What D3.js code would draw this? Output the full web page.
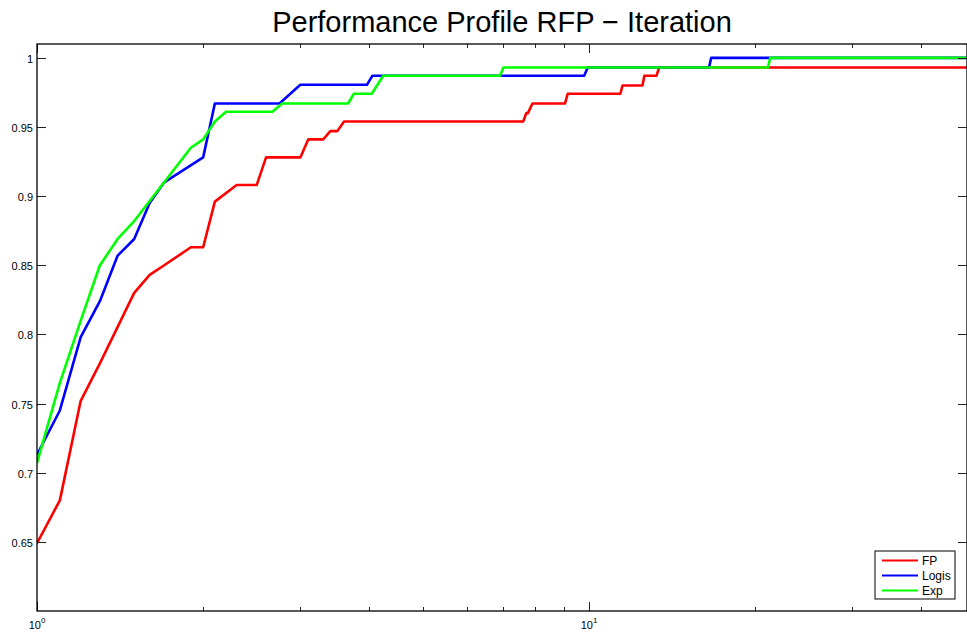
<!DOCTYPE html>
<html>
<head>
<meta charset="utf-8">
<script src="https://cdn.jsdelivr.net/npm/d3@7"></script>
<style>
  body { margin: 0; background: #fff; }
  svg { display: block; font-family: "Liberation Sans", Arial, sans-serif; }
</style>
</head>
<body>
<div id="chart"></div>
<script>
// performance profile data, [tau, rho]
var seriesNames = ["FP", "Logis", "Exp"];
var seriesColors = ["#ff0000", "#0000ff", "#00ff00"];

var fpData = [
  [1, 0.649], [1.1, 0.680], [1.2, 0.752], [1.3, 0.779], [1.5, 0.830], [1.6, 0.843],
  [1.7, 0.850], [1.9, 0.863], [2.0, 0.863], [2.1, 0.896], [2.3, 0.908], [2.5, 0.908],
  [2.6, 0.928], [3.0, 0.928], [3.1, 0.941], [3.3, 0.941], [3.4, 0.947], [3.5, 0.947],
  [3.6, 0.954], [7.6, 0.954], [7.7, 0.960], [7.75, 0.960], [7.9, 0.967], [9.05, 0.967],
  [9.15, 0.974], [11.4, 0.974], [11.5, 0.980], [12.5, 0.980], [12.6, 0.987], [13.25, 0.987],
  [13.4, 0.993], [48.4, 0.993]
];
var logisData = [
  [1, 0.713], [1.1, 0.745], [1.2, 0.798], [1.3, 0.824], [1.4, 0.857], [1.5, 0.869],
  [1.6, 0.895], [1.7, 0.910], [2.0, 0.928], [2.1, 0.967], [2.75, 0.967], [3.0, 0.9805],
  [3.96, 0.9805], [4.05, 0.987], [9.8, 0.987], [9.95, 0.993], [16.5, 0.993], [16.65, 1.0],
  [48.4, 1.0]
];
var expData = [
  [1, 0.707], [1.1, 0.765], [1.2, 0.810], [1.3, 0.850], [1.4, 0.869], [1.5, 0.882],
  [1.9, 0.935], [2.0, 0.941], [2.1, 0.954], [2.2, 0.961], [2.67, 0.961], [2.78, 0.967],
  [3.66, 0.967], [3.75, 0.974], [4.04, 0.974], [4.24, 0.987], [6.9, 0.987], [7.0, 0.993],
  [21.1, 0.993], [21.3, 1.0], [48.4, 1.0]
];

var xDomain = [1, 48.4];
var yDomain = [0.6, 1.01];
var yTicks = [0.65, 0.7, 0.75, 0.8, 0.85, 0.9, 0.95, 1];
var xMajorTicks = [1, 10];
var xMinorTicks = [2, 3, 4, 5, 6, 7, 8, 9, 20, 30, 40];
var titleText = "Performance Profile RFP \u2212 Iteration";

var allSeries = [fpData, logisData, expData];

// set the dimensions and margins of the graph
var margin = {top: 44, right: 0, bottom: 26, left: 37},
    width = 967 - margin.left - margin.right,
    height = 637 - margin.top - margin.bottom;

var svg = d3.select("#chart")
  .append("svg")
    .attr("width", 967)
    .attr("height", 637)
  .append("g")
    .attr("transform", "translate(" + margin.left + "," + margin.top + ")");

var xScale = d3.scaleLog().domain(xDomain).range([0, width]);
var yScale = d3.scaleLinear().domain(yDomain).range([height, 0]);

// clip for the lines
svg.append("clipPath").attr("id", "plotClip")
  .append("rect").attr("x", 0).attr("y", 0).attr("width", width).attr("height", height);

// lines
var line = d3.line()
  .x(function(d) { return xScale(d[0]); })
  .y(function(d) { return yScale(d[1]); });

svg.append("g").attr("clip-path", "url(#plotClip)")
  .selectAll("path")
  .data(allSeries)
  .enter()
  .append("path")
    .attr("d", line)
    .attr("fill", "none")
    .attr("stroke", function(d, i) { return seriesColors[i]; })
    .attr("stroke-width", 2.6)
    .attr("stroke-linejoin", "round");

// ticks inward on all four sides
var tickColor = "#222";
var ticks = svg.append("g");
yTicks.forEach(function(v) {
  var y = Math.round(yScale(v)) + 0.5;
  ticks.append("line").attr("x1", 0).attr("x2", 9).attr("y1", y).attr("y2", y)
    .attr("stroke", tickColor).attr("stroke-width", 1);
  ticks.append("line").attr("x1", width - 9).attr("x2", width).attr("y1", y).attr("y2", y)
    .attr("stroke", tickColor).attr("stroke-width", 1);
  ticks.append("text")
    .attr("x", -4).attr("y", y + 4)
    .attr("text-anchor", "end")
    .attr("font-size", "11px")
    .attr("fill", "#000")
    .text(v === 1 ? "1" : d3.format(".2~f")(v));
});
function xTick(v, len) {
  var x = Math.round(xScale(v)) + 0.5;
  ticks.append("line").attr("x1", x).attr("x2", x).attr("y1", height).attr("y2", height - len)
    .attr("stroke", tickColor).attr("stroke-width", 1);
  ticks.append("line").attr("x1", x).attr("x2", x).attr("y1", 0).attr("y2", len)
    .attr("stroke", tickColor).attr("stroke-width", 1);
}
xMajorTicks.forEach(function(v) { xTick(v, 9); });
xMinorTicks.forEach(function(v) { xTick(v, 4); });

xMajorTicks.forEach(function(v) {
  var t = svg.append("text")
    .attr("x", xScale(v))
    .attr("y", height + 18)
    .attr("text-anchor", "middle")
    .attr("font-size", "11px")
    .attr("fill", "#000");
  t.append("tspan").text("10");
  t.append("tspan").attr("dy", -6).attr("font-size", "8px").text(Math.round(Math.log10(v)));
});

// axes box
svg.append("rect")
  .attr("x", 0).attr("y", 0)
  .attr("width", width).attr("height", height)
  .attr("fill", "none")
  .attr("stroke", "#000")
  .attr("stroke-width", 1.3);

// title
svg.append("text")
  .attr("x", width / 2)
  .attr("y", -12)
  .attr("text-anchor", "middle")
  .attr("font-size", "29px")
  .attr("fill", "#000")
  .text(titleText);

// legend
var legend = svg.append("g")
  .attr("transform", "translate(" + (width - 92) + "," + (height - 60) + ")");
legend.append("rect")
  .attr("x", 0).attr("y", 0).attr("width", 80).attr("height", 48)
  .attr("fill", "#fff").attr("stroke", "#000").attr("stroke-width", 1);
seriesNames.forEach(function(name, i) {
  var y = 9.5 + i * 15;
  legend.append("line")
    .attr("x1", 7).attr("x2", 43).attr("y1", y).attr("y2", y)
    .attr("stroke", seriesColors[i]).attr("stroke-width", 2);
  legend.append("text")
    .attr("x", 47).attr("y", y + 4)
    .attr("font-size", "12px")
    .attr("fill", "#000")
    .text(name);
});
</script>
</body>
</html>
